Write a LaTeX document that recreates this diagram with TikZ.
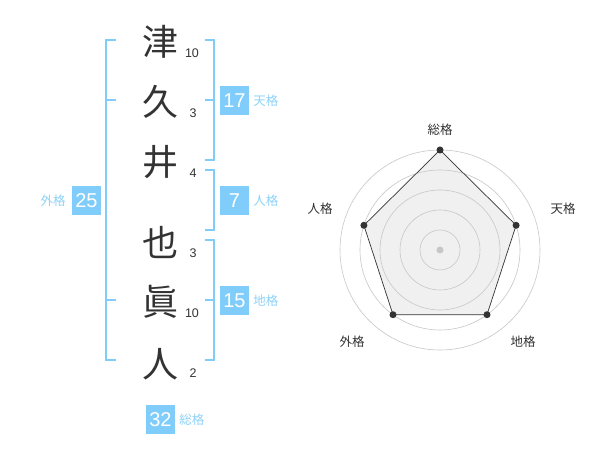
\documentclass[tikz,border=0pt]{standalone}
\usepackage{fontspec}
\setmainfont{Liberation Sans}
\newfontfamily\jp{Noto Sans CJK JP}
\definecolor{kblue}{HTML}{80CCFA}
\definecolor{klabel}{HTML}{8ED2F8}
\definecolor{ktext}{HTML}{333333}
\begin{document}
\begin{tikzpicture}[x=1pt,y=-1pt,
  kanji/.style={font=\jp\fontsize{36}{36}\selectfont, text=ktext, inner sep=0pt},
  strokes/.style={font=\fontsize{12.5}{12.5}\selectfont, text=ktext, inner sep=0pt},
  numbox/.style={fill=kblue, text=white, minimum width=29pt, minimum height=29pt, inner sep=0pt, font=\fontsize{20}{20}\selectfont},
  kaku/.style={font=\jp\fontsize{12.5}{12.5}\selectfont, text=klabel, inner sep=0pt},
  bracket/.style={draw=kblue, line width=2pt},
  ring/.style={draw=black!22, line width=0.6pt},
  rlabel/.style={font=\jp\fontsize{12.5}{12.5}\selectfont, text=ktext, inner sep=0pt},
  vdot/.style={circle, fill=ktext, inner sep=0pt, minimum size=7pt}]
\path[fill=white] (0,0) rectangle (600,470);
% kanji
\node[kanji] (k1) at (160,42) {津};
\node[kanji] (k2) at (160,102) {久};
\node[kanji] (k3) at (160,162) {井};
\node[kanji] (k4) at (160,242) {也};
\node[kanji] (k5) at (160,302) {眞};
\node[kanji] (k6) at (160,364) {人};
% stroke counts
\node[strokes] (s1) at (192,53) {10};
\node[strokes] (s2) at (193,113) {3};
\node[strokes] (s3) at (193,173) {4};
\node[strokes] (s4) at (193,253) {3};
\node[strokes] (s5) at (192,313) {10};
\node[strokes] (s6) at (193,373) {2};
% brackets
\draw[bracket] (116,40) -- (106,40) -- (106,360) -- (116,360);
\draw[bracket] (106,100) -- (116,100);
\draw[bracket] (106,300) -- (116,300);
\draw[bracket] (205,40) -- (214,40) -- (214,160) -- (205,160);
\draw[bracket] (205,100) -- (214,100);
\draw[bracket] (205,170) -- (214,170) -- (214,230) -- (205,230);
\draw[bracket] (205,240) -- (214,240) -- (214,360) -- (205,360);
\draw[bracket] (205,300) -- (214,300);
% boxes
\node[numbox] (ten) at (234.5,100.5) {17};
\node[kaku, anchor=west] (tenl) at ([xshift=4pt]ten.east) {天格};
\node[numbox] (jin) at (234.5,200.5) {7};
\node[kaku, anchor=west] (jinl) at ([xshift=4pt]jin.east) {人格};
\node[numbox] (chi) at (234.5,300.5) {15};
\node[kaku, anchor=west] (chil) at ([xshift=4pt]chi.east) {地格};
\node[numbox] (gai) at (86.5,200.5) {25};
\node[kaku, anchor=east] (gail) at ([xshift=-6pt]gai.west) {外格};
\node[numbox] (sou) at (160.5,419.5) {32};
\node[kaku, anchor=west] (soul) at ([xshift=4pt]sou.east) {総格};
% radar
\coordinate (c) at (440,250);
\coordinate (pS) at (440,150);
\coordinate (pT) at (516.1,225.3);
\coordinate (pC) at (487.0,314.7);
\coordinate (pG) at (393.0,314.7);
\coordinate (pJ) at (363.9,225.3);
\fill[black!6] (pS) -- (pT) -- (pC) -- (pG) -- (pJ) -- cycle;
\foreach \r in {20,40,60,80,100} \draw[ring] (c) circle[radius=\r];
\fill[black!22] (c) circle[radius=3.5];
\draw[ktext, line width=0.7pt] (pS) -- (pT) -- (pC) -- (pG) -- (pJ) -- cycle;
\node[vdot] (dS) at (pS) {};
\node[vdot] (dT) at (pT) {};
\node[vdot] (dC) at (pC) {};
\node[vdot] (dG) at (pG) {};
\node[vdot] (dJ) at (pJ) {};
\node[rlabel] (lS) at (440,130) {総格};
\node[rlabel] (lT) at (563,209) {天格};
\node[rlabel] (lJ) at (320,209) {人格};
\node[rlabel] (lC) at (523,342) {地格};
\node[rlabel] (lG) at (352,342) {外格};
\end{tikzpicture}
\end{document}
